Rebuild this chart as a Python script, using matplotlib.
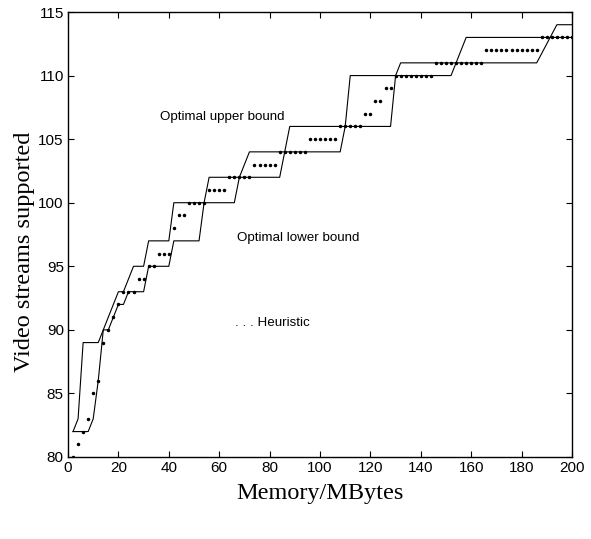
import matplotlib
matplotlib.use('Agg')
import matplotlib.pyplot as plt

# optimal upper bound (MB, streams)
upper_x = [2, 4, 6, 12, 20, 22, 26, 30, 32, 40, 42, 54, 56, 68, 72, 86, 88, 110, 112, 130, 132, 186, 194, 200]
upper_y = [82, 83, 89, 89, 93, 93, 95, 95, 97, 97, 100, 100, 102, 102, 104, 104, 106, 106, 110, 110, 111, 111, 114, 114]

# optimal lower bound
lower_x = [2, 8, 10, 12, 14, 16, 20, 22, 24, 30, 32, 40, 42, 52, 54, 66, 68, 84, 86, 108, 110, 128, 130, 152, 158, 200]
lower_y = [82, 82, 83, 86, 90, 90, 92, 92, 93, 93, 95, 95, 97, 97, 100, 100, 102, 102, 104, 104, 106, 106, 110, 110, 113, 113]

# heuristic, one value every 2 MB from 2 to 200
heur_x = list(range(2, 201, 2))
heur_y = [80, 81, 82, 83, 85, 86, 89, 90, 91, 92,
          93, 93, 93, 94, 94, 95, 95, 96, 96, 96,
          98, 99, 99, 100, 100, 100, 100, 101, 101, 101,
          101, 102, 102, 102, 102, 102, 103, 103, 103, 103,
          103, 104, 104, 104, 104, 104, 104, 105, 105, 105,
          105, 105, 105, 106, 106, 106, 106, 106, 107, 107,
          108, 108, 109, 109, 110, 110, 110, 110, 110, 110,
          110, 110, 111, 111, 111, 111, 111, 111, 111, 111,
          111, 111, 112, 112, 112, 112, 112, 112, 112, 112,
          112, 112, 112, 113, 113, 113, 113, 113, 113, 113]

xticks = list(range(0, 201, 20))
yticks = list(range(80, 116, 5))

fig = plt.figure(figsize=(5.91, 5.39), dpi=100)
ax = fig.add_axes([68/591, 1 - 457/539, 504/591, 445/539])

ax.plot(upper_x, upper_y, color='black', lw=0.8)
ax.plot(lower_x, lower_y, color='black', lw=0.8)
ax.plot(heur_x, heur_y, linestyle='none', marker='.', markersize=3.0, color='black')

lab = dict(family='Liberation Sans', fontsize=9.6, va='center', ha='left')
ax.text(36.5, 106.75, 'Optimal upper bound', **lab)
ax.text(67.0, 97.25, 'Optimal lower bound', **lab)
ax.text(66.3, 90.55, '. . . Heuristic', **lab)

ax.set_xlim(0, 200)
ax.set_ylim(80, 115)
ax.set_xticks(xticks)
ax.set_yticks(yticks)
ax.tick_params(direction='in', top=True, right=True, length=4, width=0.8,
               labelsize=11, pad=3)
for t in ax.get_xticklabels() + ax.get_yticklabels():
    t.set_family('Liberation Sans')
for s in ax.spines.values():
    s.set_linewidth(1.0)

ax.set_xlabel('Memory/MBytes', family='Liberation Serif', fontsize=17.5, labelpad=6)
ax.set_ylabel('Video streams supported', family='Liberation Serif', fontsize=17.5)
ax.yaxis.set_label_coords(-0.066, 0.46)

fig.savefig('out.png', dpi=100)
